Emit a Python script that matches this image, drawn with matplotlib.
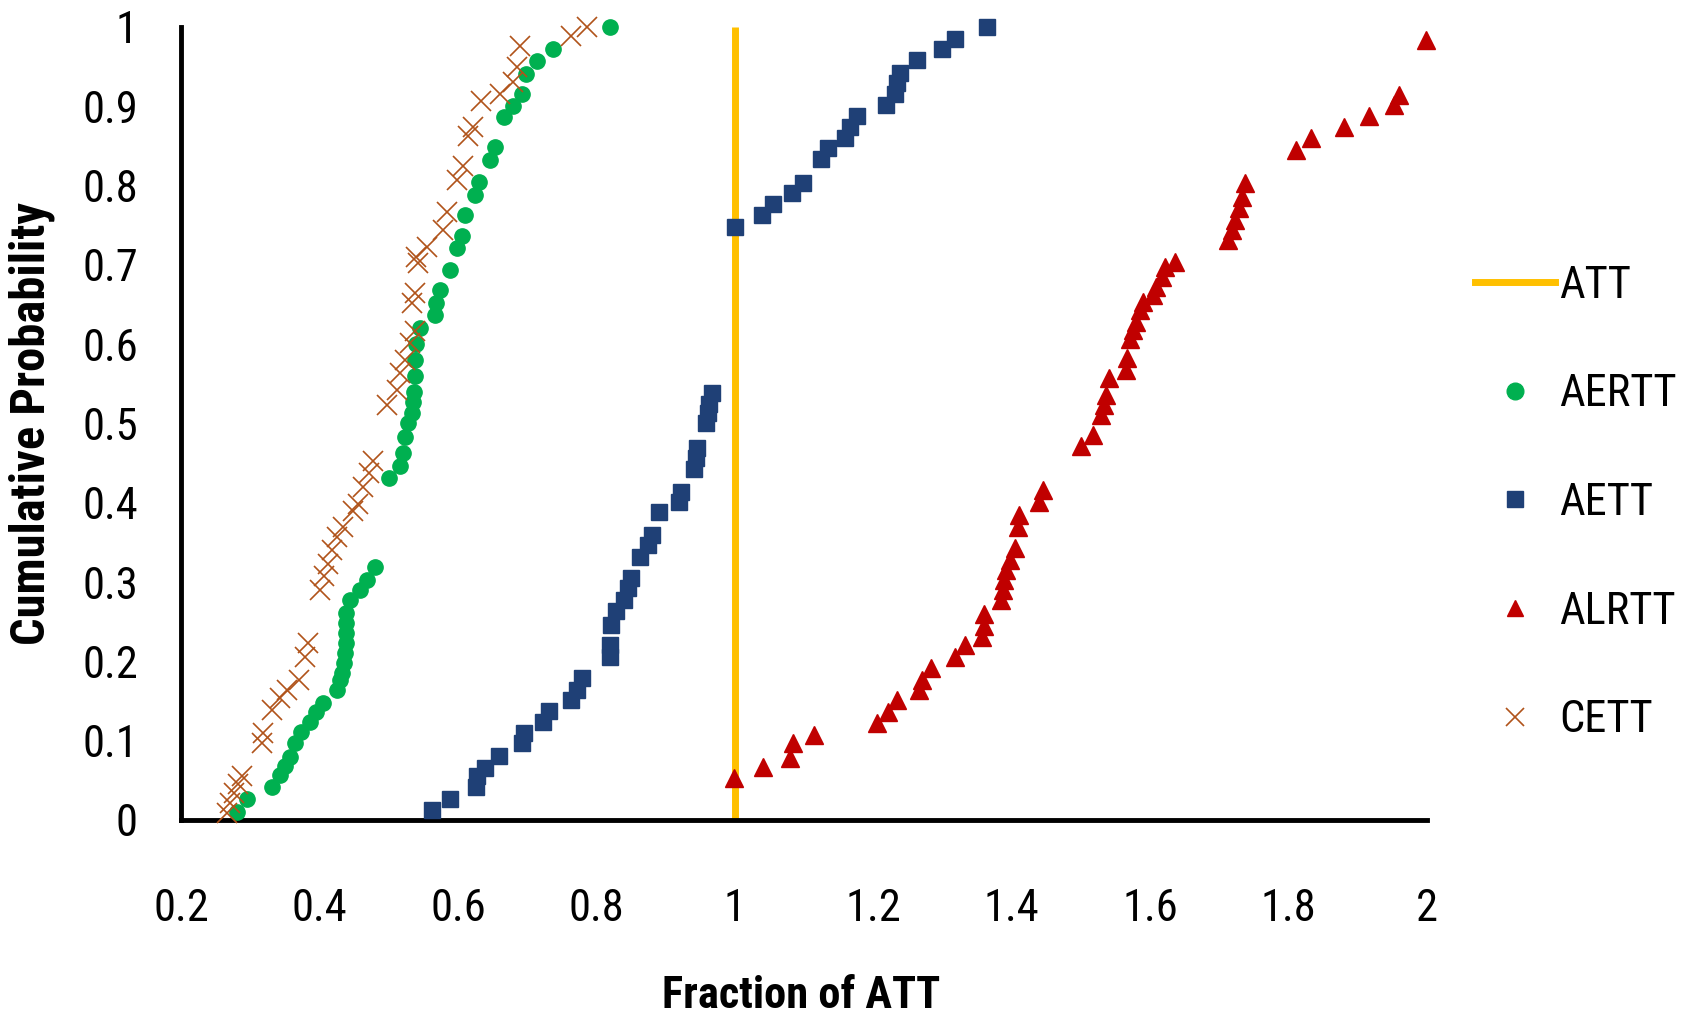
import matplotlib
matplotlib.use("Agg")
import matplotlib.pyplot as plt
from matplotlib.lines import Line2D

# ---------------- data ----------------
att_x = [1.0, 1.0]
att_y = [0.0, 1.0]

aertt_x = [0.281, 0.295, 0.331, 0.343, 0.350, 0.357, 0.365, 0.374, 0.386, 0.395,
           0.405, 0.425, 0.430, 0.432, 0.435, 0.437, 0.438, 0.439, 0.439, 0.439,
           0.444, 0.459, 0.468, 0.480,
           0.500, 0.516, 0.521, 0.524, 0.528, 0.533, 0.535, 0.536, 0.538, 0.538,
           0.540, 0.545, 0.567, 0.569, 0.574, 0.589, 0.598, 0.606, 0.610, 0.625,
           0.630, 0.646, 0.654, 0.666, 0.680, 0.692, 0.699, 0.714, 0.738, 0.820]
aertt_y = [0.010, 0.026, 0.042, 0.057, 0.068, 0.079, 0.097, 0.111, 0.124, 0.136,
           0.148, 0.164, 0.177, 0.185, 0.198, 0.210, 0.223, 0.236, 0.248, 0.261,
           0.277, 0.290, 0.303, 0.319,
           0.431, 0.446, 0.463, 0.483, 0.500, 0.513, 0.527, 0.540, 0.560, 0.580,
           0.600, 0.620, 0.637, 0.652, 0.668, 0.694, 0.721, 0.736, 0.763, 0.788,
           0.805, 0.832, 0.849, 0.887, 0.900, 0.916, 0.941, 0.957, 0.972, 1.000]

aett_x = [0.562, 0.588, 0.626, 0.627, 0.639, 0.660, 0.693, 0.696, 0.723, 0.732,
          0.764, 0.772, 0.779, 0.819, 0.820, 0.821, 0.829, 0.840, 0.846, 0.850,
          0.863, 0.874, 0.881, 0.890, 0.920, 0.922, 0.941, 0.944, 0.946, 0.959,
          0.961, 0.963, 0.967,
          1.000, 1.039, 1.055, 1.082, 1.099, 1.125, 1.134, 1.159, 1.166, 1.176,
          1.218, 1.231, 1.235, 1.238, 1.263, 1.300, 1.318, 1.364]
aett_y = [0.013, 0.026, 0.042, 0.055, 0.065, 0.081, 0.097, 0.109, 0.124, 0.137,
          0.151, 0.164, 0.179, 0.206, 0.221, 0.246, 0.263, 0.277, 0.292, 0.305,
          0.332, 0.347, 0.359, 0.388, 0.401, 0.414, 0.443, 0.456, 0.469, 0.500,
          0.513, 0.525, 0.538,
          0.748, 0.763, 0.777, 0.790, 0.803, 0.833, 0.847, 0.860, 0.874, 0.888,
          0.902, 0.916, 0.929, 0.942, 0.958, 0.972, 0.985, 1.000]

alrtt_x = [0.999, 1.040, 1.079, 1.084, 1.115, 1.205, 1.222, 1.235, 1.266, 1.270,
           1.284, 1.318, 1.332, 1.357, 1.360, 1.360, 1.385, 1.387, 1.389, 1.392,
           1.398, 1.405, 1.409, 1.411, 1.439, 1.445, 1.500, 1.518, 1.529, 1.533,
           1.536, 1.541, 1.565, 1.566, 1.571, 1.575, 1.580, 1.585, 1.590, 1.604,
           1.609, 1.617, 1.622, 1.636, 1.713, 1.718, 1.723, 1.728, 1.733, 1.737,
           1.811, 1.833, 1.880, 1.916, 1.952, 1.960, 1.999]
alrtt_y = [0.053, 0.067, 0.078, 0.097, 0.107, 0.122, 0.136, 0.151, 0.164, 0.177,
           0.191, 0.206, 0.221, 0.231, 0.244, 0.260, 0.277, 0.290, 0.303, 0.315,
           0.328, 0.343, 0.370, 0.385, 0.401, 0.416, 0.471, 0.485, 0.510, 0.523,
           0.536, 0.557, 0.567, 0.582, 0.607, 0.618, 0.628, 0.643, 0.653, 0.662,
           0.672, 0.685, 0.697, 0.704, 0.731, 0.744, 0.757, 0.772, 0.786, 0.803,
           0.845, 0.860, 0.874, 0.888, 0.902, 0.914, 0.984]

cett_x = [0.266, 0.271, 0.276, 0.282, 0.288, 0.317, 0.319, 0.331, 0.343, 0.353,
          0.370, 0.379, 0.384, 0.401, 0.406, 0.413, 0.418, 0.425, 0.434, 0.449,
          0.456, 0.463, 0.471, 0.478, 0.497, 0.512, 0.516, 0.524, 0.531, 0.538,
          0.533, 0.538, 0.543, 0.540, 0.555, 0.579, 0.584, 0.598, 0.608, 0.615,
          0.622, 0.634, 0.661, 0.680, 0.685, 0.690, 0.764, 0.786]
cett_y = [0.009, 0.021, 0.034, 0.045, 0.055, 0.097, 0.109, 0.139, 0.154, 0.164,
          0.177, 0.206, 0.223, 0.290, 0.307, 0.323, 0.340, 0.357, 0.370, 0.390,
          0.399, 0.420, 0.437, 0.452, 0.523, 0.542, 0.563, 0.580, 0.601, 0.616,
          0.652, 0.664, 0.702, 0.710, 0.723, 0.744, 0.767, 0.807, 0.824, 0.862,
          0.874, 0.906, 0.916, 0.931, 0.950, 0.976, 0.988, 1.000]

x_ticks = [0.2, 0.4, 0.6, 0.8, 1.0, 1.2, 1.4, 1.6, 1.8, 2.0]
x_tick_labels = ["0.2", "0.4", "0.6", "0.8", "1", "1.2", "1.4", "1.6", "1.8", "2"]
y_ticks = [0.0, 0.1, 0.2, 0.3, 0.4, 0.5, 0.6, 0.7, 0.8, 0.9, 1.0]
y_tick_labels = ["0", "0.1", "0.2", "0.3", "0.4", "0.5", "0.6", "0.7", "0.8", "0.9", "1"]

series_names = ["ATT", "AERTT", "AETT", "ALRTT", "CETT"]
x_label = "Fraction of ATT"
y_label = "Cumulative Probability"

# ---------------- style ----------------
import logging
logging.getLogger("matplotlib.font_manager").setLevel(logging.ERROR)
FONT = ["Roboto Condensed", "DejaVu Sans Condensed", "Liberation Sans Narrow",
        "Lato", "DejaVu Sans"]
plt.rcParams["font.family"] = FONT

C_ATT = "#FFC000"
C_AERTT = "#00B050"
C_AETT = "#1F4076"
C_ALRTT = "#C00000"
C_CETT = "#B0531A"

fig = plt.figure(figsize=(16.92, 10.16), dpi=100)
ax = fig.add_axes([0.107, 0.193, 0.7364, 0.7805])

ax.plot(att_x, att_y, color=C_ATT, lw=5, solid_capstyle="butt", zorder=2)
ax.plot(aertt_x, aertt_y, ls="none", marker="o", ms=11, color=C_AERTT,
        mec=C_AERTT, zorder=3, clip_on=False)
ax.plot(aett_x, aett_y, ls="none", marker="s", ms=11, color=C_AETT,
        mec=C_AETT, zorder=4, clip_on=False)
ax.plot(alrtt_x, alrtt_y, ls="none", marker="^", ms=13, color=C_ALRTT,
        mec=C_ALRTT, zorder=5, clip_on=False)
ax.plot(cett_x, cett_y, ls="none", marker="x", ms=14, mew=1.2, color=C_CETT,
        zorder=6, clip_on=False)

ax.set_xlim(0.2, 2.0)
ax.set_ylim(0.0, 1.0)
ax.set_xticks(x_ticks)
ax.set_xticklabels(x_tick_labels)
ax.set_yticks(y_ticks)
ax.set_yticklabels(y_tick_labels)
ax.tick_params(axis="both", length=0, labelsize=32)
ax.tick_params(axis="x", pad=49)
ax.tick_params(axis="y", pad=31)

for s in ["top", "right"]:
    ax.spines[s].set_visible(False)
for s in ["left", "bottom"]:
    ax.spines[s].set_linewidth(3.5)
    ax.spines[s].set_color("black")
    ax.spines[s].set_capstyle("projecting")

ax.set_xlabel(x_label, fontsize=32, fontweight="bold", va="center")
ax.set_ylabel(y_label, fontsize=35, fontweight="bold", va="center")
ax.xaxis.set_label_coords(0.498, -0.222)
ax.yaxis.set_label_coords(-0.1196, 0.5)

handles = [
    Line2D([], [], color=C_ATT, lw=5),
    Line2D([], [], ls="none", marker="o", ms=12, color=C_AERTT),
    Line2D([], [], ls="none", marker="s", ms=11, color=C_AETT),
    Line2D([], [], ls="none", marker="^", ms=12, color=C_ALRTT),
    Line2D([], [], ls="none", marker="x", ms=13, mew=1.2, color=C_CETT),
]
fig.legend(handles, series_names, loc="center left",
           bbox_to_anchor=(0.8715, 0.505), frameon=False, fontsize=32,
           handlelength=1.8, handletextpad=0.1, labelspacing=1.5,
           borderaxespad=0, borderpad=0)

fig.savefig("out.png", dpi=100)
